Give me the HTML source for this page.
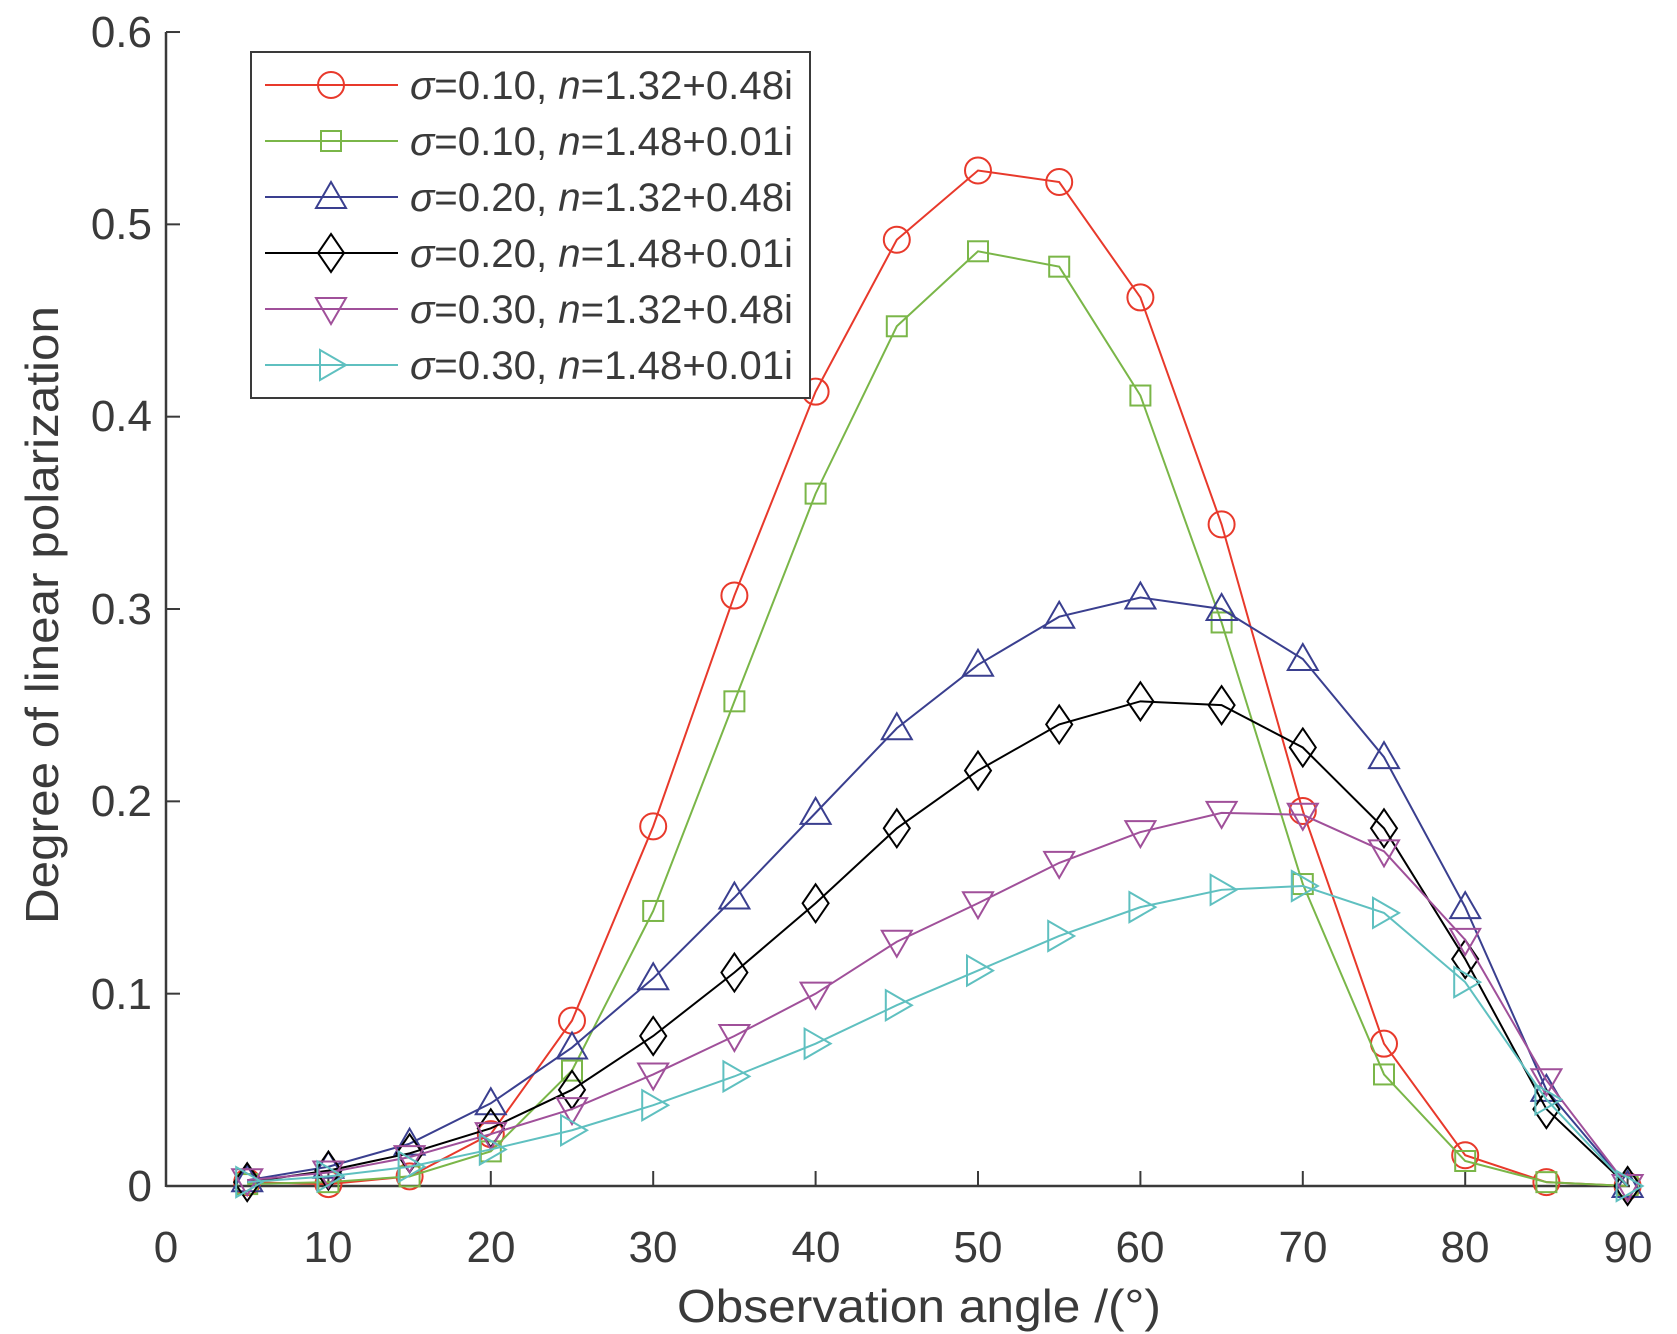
<!DOCTYPE html>
<html><head><meta charset="utf-8"><style>
body{margin:0;background:#fff}
svg{display:block}
text{font-family:"Liberation Sans",sans-serif;fill:#3a3a3a}
</style></head><body>
<svg id="s" width="1677" height="1334" viewBox="0 0 1677 1334" xmlns="http://www.w3.org/2000/svg">
<g stroke="#3a3a3a" stroke-width="2.5" fill="none">
<line x1="166" y1="32" x2="166" y2="1187"/>
<line x1="166" y1="1186" x2="1630" y2="1186"/>
</g>
<g id="ticks" stroke="#3a3a3a" stroke-width="2"></g>
<g font-size="44" text-anchor="end">
<text x="152" y="1201">0</text><text x="152" y="1009">0.1</text><text x="152" y="816">0.2</text>
<text x="152" y="624">0.3</text><text x="152" y="431">0.4</text><text x="152" y="239">0.5</text><text x="152" y="47">0.6</text>
</g>
<g font-size="44" text-anchor="middle">
<text x="166" y="1262">0</text><text x="328" y="1262">10</text><text x="491" y="1262">20</text><text x="653" y="1262">30</text>
<text x="816" y="1262">40</text><text x="978" y="1262">50</text><text x="1140" y="1262">60</text><text x="1303" y="1262">70</text>
<text x="1465" y="1262">80</text><text x="1628" y="1262">90</text>
</g>
<text x="919" y="1322" font-size="46" text-anchor="middle" textLength="484" lengthAdjust="spacingAndGlyphs">Observation angle /(°)</text>
<text transform="translate(58,615) rotate(-90)" font-size="46" text-anchor="middle" textLength="618" lengthAdjust="spacingAndGlyphs">Degree of linear polarization</text>
<g id="series"></g>
<rect x="251" y="52" width="559" height="346" fill="#fff" stroke="#3a3a3a" stroke-width="2"/>
<g id="leg"></g>
<g font-size="40">
<text x="410" y="99" textLength="383" lengthAdjust="spacingAndGlyphs"><tspan font-style="italic">σ</tspan>=0.10, <tspan font-style="italic">n</tspan>=1.32+0.48i</text>
<text x="410" y="155" textLength="383" lengthAdjust="spacingAndGlyphs"><tspan font-style="italic">σ</tspan>=0.10, <tspan font-style="italic">n</tspan>=1.48+0.01i</text>
<text x="410" y="211" textLength="383" lengthAdjust="spacingAndGlyphs"><tspan font-style="italic">σ</tspan>=0.20, <tspan font-style="italic">n</tspan>=1.32+0.48i</text>
<text x="410" y="267" textLength="383" lengthAdjust="spacingAndGlyphs"><tspan font-style="italic">σ</tspan>=0.20, <tspan font-style="italic">n</tspan>=1.48+0.01i</text>
<text x="410" y="323" textLength="383" lengthAdjust="spacingAndGlyphs"><tspan font-style="italic">σ</tspan>=0.30, <tspan font-style="italic">n</tspan>=1.32+0.48i</text>
<text x="410" y="379" textLength="383" lengthAdjust="spacingAndGlyphs"><tspan font-style="italic">σ</tspan>=0.30, <tspan font-style="italic">n</tspan>=1.48+0.01i</text>
</g>
</svg>
<script>
var NS="http://www.w3.org/2000/svg";
function X(a){return 166+a*16.24}
function Y(v){return 1186-v*1923.3}
function el(p,t,a){var e=document.createElementNS(NS,t);for(var k in a)e.setAttribute(k,a[k]);p.appendChild(e);return e}
var tk=document.getElementById("ticks");
for(var i=1;i<=9;i++){el(tk,"line",{x1:X(i*10),y1:1186,x2:X(i*10),y2:1171})}
for(var j=1;j<=6;j++){el(tk,"line",{x1:166,y1:Y(j/10),x2:180,y2:Y(j/10)})}
var S=[
["#e8392b","o",[.002,.001,.005,.027,.086,.187,.307,.413,.492,.528,.522,.462,.344,.195,.074,.016,.002,0]],
["#7ab648","s",[.001,.002,.005,.018,.06,.143,.252,.36,.447,.486,.478,.411,.293,.157,.058,.013,.002,0]],
["#3a3f8f","^",[.003,.01,.022,.043,.072,.108,.15,.194,.238,.271,.296,.306,.3,.274,.223,.145,.05,0]],
["#000000","d",[.002,.008,.017,.03,.05,.078,.111,.147,.186,.216,.24,.252,.25,.228,.186,.118,.04,0]],
["#a0509a","v",[.003,.007,.015,.027,.04,.058,.078,.1,.127,.147,.168,.184,.194,.193,.174,.128,.055,0]],
["#5fc0c0",">",[.002,.005,.01,.019,.029,.042,.057,.074,.094,.112,.13,.145,.154,.156,.142,.106,.045,0]]];
function mk(g,m,x,y,c){var a={fill:"none",stroke:c,"stroke-width":2};var r=13;
if(m=="o"){a.cx=x;a.cy=y;a.r=r;el(g,"circle",a)}
else if(m=="s"){a.x=x-10;a.y=y-10;a.width=20;a.height=20;el(g,"rect",a)}
else{var p;if(m=="^")p=[[0,-15],[15,11],[-15,11]];if(m=="v")p=[[0,15],[15,-11],[-15,-11]];
if(m=="d")p=[[0,-19],[13,0],[0,19],[-13,0]];if(m==">")p=[[15,0],[-11,15],[-11,-15]];
a.points=p.map(function(q){return (x+q[0])+","+(y+q[1])}).join(" ");el(g,"polygon",a)}}
var sg=document.getElementById("series"),lg=document.getElementById("leg");
S.forEach(function(s,k){var pts=s[2].map(function(v,i){return [X(5+5*i),Y(v)]});
el(sg,"polyline",{points:pts.map(function(p){return p.join(",")}).join(" "),fill:"none",stroke:s[0],"stroke-width":2});
pts.forEach(function(p){mk(sg,s[1],p[0],p[1],s[0])});
var ly=85+56*k;el(lg,"line",{x1:265,y1:ly,x2:398,y2:ly,stroke:s[0],"stroke-width":2});mk(lg,s[1],331,ly,s[0]);});
</script>
</body></html>
